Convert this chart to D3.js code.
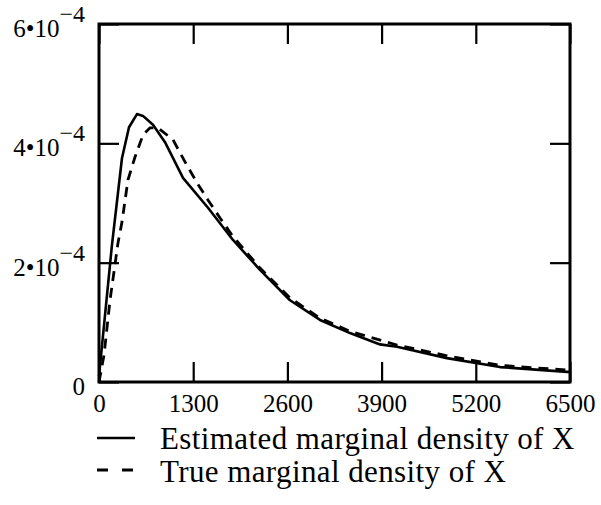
<!DOCTYPE html>
<html>
<head>
<meta charset="utf-8">
<script src="https://cdn.jsdelivr.net/npm/d3@7"></script>
<style>
  body { margin: 0; background: #fff; }
  svg text { font-family: "Liberation Serif", "Times New Roman", serif; fill: #000; }
</style>
</head>
<body>
<div id="chart"></div>
<script>
// x values (sample points) and densities
const estX = [0, 179, 317, 414, 524, 607, 745, 911, 1159, 1504, 1849, 2222, 2636, 3050, 3464, 3878, 4112, 4802, 5534, 6458, 6500];
const estY = [0.1e-4, 2.30e-4, 3.75e-4, 4.27e-4, 4.49e-4, 4.46e-4, 4.31e-4, 4.02e-4, 3.42e-4, 2.92e-4, 2.38e-4, 1.88e-4, 1.37e-4, 1.04e-4, 0.82e-4, 0.63e-4, 0.59e-4, 0.40e-4, 0.25e-4, 0.17e-4, 0.17e-4];

const trueX = [0, 69, 152, 262, 317, 400, 497, 607, 704, 814, 1021, 1187, 1352, 1504, 1670, 1835, 2222, 2636, 3050, 3464, 4112, 4802, 5534, 6458, 6500];
const trueY = [0, 0.45e-4, 1.37e-4, 2.33e-4, 2.68e-4, 3.39e-4, 3.77e-4, 4.14e-4, 4.26e-4, 4.26e-4, 4.06e-4, 3.69e-4, 3.34e-4, 3.05e-4, 2.75e-4, 2.46e-4, 1.91e-4, 1.41e-4, 1.07e-4, 0.85e-4, 0.62e-4, 0.44e-4, 0.28e-4, 0.20e-4, 0.20e-4];

const xTicks = [0, 1300, 2600, 3900, 5200, 6500];
const yTicks = [0, 2e-4, 4e-4, 6e-4];
const yTickText = ["0", "2\u202210", "4\u202210", "6\u202210"];
const yTickExp = ["", "\u22124", "\u22124", "\u22124"];

const legendLabels = ["Estimated marginal density of X", "True marginal density of X"];

const width = 601, height = 505;
const plotLeft = 99, plotRight = 570, plotTop = 24, plotBottom = 382;

const svg = d3.select("#chart")
    .append("svg")
    .attr("width", width)
    .attr("height", height);

const x = d3.scaleLinear().domain([0, 6500]).range([plotLeft, plotRight]);
const y = d3.scaleLinear().domain([0, 6e-4]).range([plotBottom, plotTop]);

// inward ticks on all four sides
svg.append("g")
    .attr("transform", `translate(0,${plotBottom})`)
    .call(d3.axisBottom(x).tickValues(xTicks).tickSize(-20).tickPadding(12).tickFormat(d3.format("d")))
    .call(g => g.select(".domain").remove())
    .call(g => g.selectAll("line").attr("stroke-width", 2.2))
    .call(g => g.selectAll("text").attr("font-size", 25).attr("font-family", null));

svg.append("g")
    .attr("transform", `translate(0,${plotTop})`)
    .call(d3.axisTop(x).tickValues(xTicks).tickSize(-20).tickFormat(""))
    .call(g => g.select(".domain").remove())
    .call(g => g.selectAll("line").attr("stroke-width", 2.2));

svg.append("g")
    .attr("transform", `translate(${plotLeft},0)`)
    .call(d3.axisLeft(y).tickValues(yTicks).tickSize(-20).tickFormat(""))
    .call(g => g.select(".domain").remove())
    .call(g => g.selectAll("line").attr("stroke-width", 2.2));

svg.append("g")
    .attr("transform", `translate(${plotRight},0)`)
    .call(d3.axisRight(y).tickValues(yTicks).tickSize(-20).tickFormat(""))
    .call(g => g.select(".domain").remove())
    .call(g => g.selectAll("line").attr("stroke-width", 2.2));

// y labels with superscript exponent
const yLab = svg.append("g")
    .selectAll("text")
    .data(yTicks)
    .join("text")
    .attr("x", 85)
    .attr("y", d => y(d) + 13)
    .attr("text-anchor", "end")
    .attr("font-size", 25);
yLab.append("tspan").text((d, i) => yTickText[i]);
yLab.append("tspan")
    .attr("dy", -15)
    .attr("font-size", 24)
    .text((d, i) => yTickExp[i]);

// frame
svg.append("rect")
    .attr("x", plotLeft)
    .attr("y", plotTop)
    .attr("width", plotRight - plotLeft)
    .attr("height", plotBottom - plotTop)
    .attr("fill", "none")
    .attr("stroke", "#000")
    .attr("stroke-width", 3);

const line = d3.line()
    .x(d => x(d[0]))
    .y(d => y(d[1]));

svg.append("path")
    .datum(estX.map((v, i) => [v, estY[i]]))
    .attr("fill", "none")
    .attr("stroke", "#000")
    .attr("stroke-width", 2.6)
    .attr("stroke-linejoin", "round")
    .attr("d", line);

svg.append("path")
    .datum(trueX.map((v, i) => [v, trueY[i]]))
    .attr("fill", "none")
    .attr("stroke", "#000")
    .attr("stroke-width", 2.8)
    .attr("stroke-dasharray", "10,7")
    .attr("d", line);

// legend
const legend = svg.append("g");
legend.append("line")
    .attr("x1", 97).attr("x2", 135)
    .attr("y1", 438).attr("y2", 438)
    .attr("stroke", "#000").attr("stroke-width", 2.6);
legend.append("line")
    .attr("x1", 97).attr("x2", 135)
    .attr("y1", 470).attr("y2", 470)
    .attr("stroke", "#000").attr("stroke-width", 2.8)
    .attr("stroke-dasharray", "11,14");
legend.selectAll("text")
    .data(legendLabels)
    .join("text")
    .attr("x", 160)
    .attr("y", (d, i) => 449 + i * 33)
    .attr("font-size", 31)
    .attr("letter-spacing", 0.4)
    .text(d => d);
</script>
</body>
</html>
